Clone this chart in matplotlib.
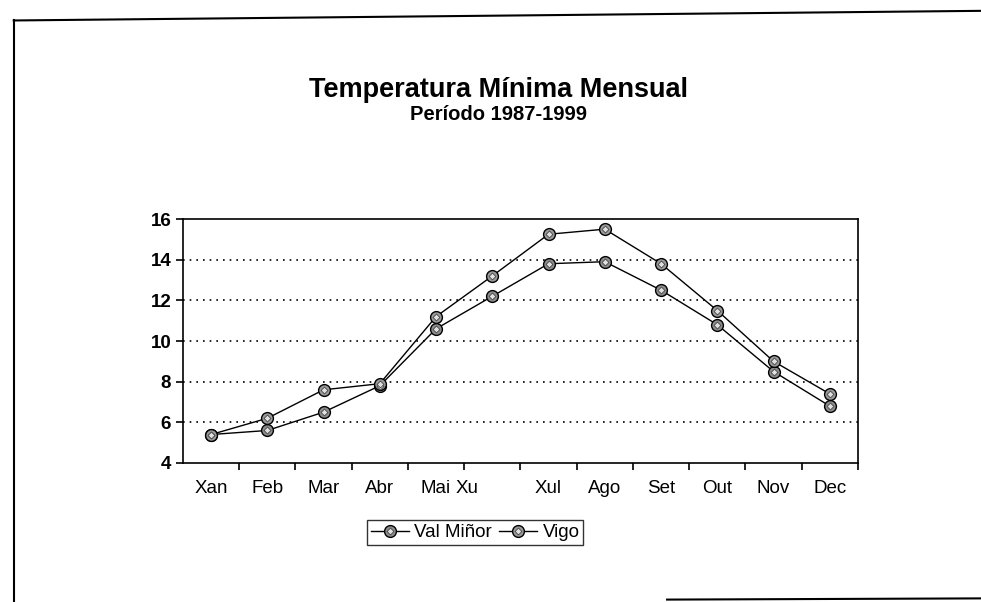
import matplotlib.pyplot as plt
from matplotlib.lines import Line2D
from matplotlib.legend_handler import HandlerTuple
from matplotlib.transforms import ScaledTranslation

plt.rcParams['font.family'] = ['Liberation Sans', 'DejaVu Sans']

# Data
months = ["Xan", "Feb", "Mar", "Abr", "Mai", "Xu", "Xul", "Ago", "Set", "Out", "Nov", "Dec"]
val_minor = [5.4, 5.6, 6.5, 7.8, 10.6, 12.2, 13.8, 13.9, 12.5, 10.8, 8.5, 6.8]
vigo = [5.4, 6.2, 7.6, 7.9, 11.2, 13.2, 15.25, 15.5, 13.8, 11.5, 9.0, 7.4]
y_ticks = [4, 6, 8, 10, 12, 14, 16]

fig = plt.figure(figsize=(9.81, 6.02), dpi=100)
ax = fig.add_axes([0.1865, 0.2309, 0.688, 0.4053])

x = list(range(len(months)))

handles = []
for vals, fill in [(val_minor, "#8c8c8c"), (vigo, "#9a9a9a")]:
    ln, = ax.plot(x, vals, color="black", lw=1.0, marker="o", ms=8.5,
                  mfc=fill, mec="black", mew=1.0, zorder=3)
    dm, = ax.plot(x, vals, ls="none", marker="D", ms=3.5,
                  mfc="#e0e0e0", mec="#444444", mew=0.6, zorder=4)
    handles.append((ln, dm))

# dotted gridlines, interior only
for yv in y_ticks[1:-1]:
    ax.axhline(yv, color="black", lw=1.2, ls=(0, (1, 3)), zorder=1)

ax.set_xlim(-0.5, len(months) - 0.5)
ax.set_ylim(4, 16)
ax.set_yticks(y_ticks)
ax.set_xticks(x)
ax.set_xticklabels(months)
ax.set_xticks([i + 0.5 for i in range(len(months))], minor=True)
ax.tick_params(axis="x", which="major", length=0, pad=12, labelsize=13.5)
ax.tick_params(axis="x", which="minor", length=5, width=1.2, direction="out")
ax.tick_params(axis="y", length=5, width=1.2, direction="out", labelsize=13.5)
for lab in ax.get_yticklabels():
    lab.set_fontweight("bold")
for sp in ax.spines.values():
    sp.set_linewidth(1.2)

# "Xu" label sits left of its category in the original
xu = ax.get_xticklabels()[5]
xu.set_transform(xu.get_transform() + ScaledTranslation(-0.25, 0, fig.dpi_scale_trans))

fig.text(0.508, 0.85, "Temperatura Mínima Mensual", ha="center", va="center",
         fontsize=19.5, fontweight="bold")
fig.text(0.508, 0.81, "Período 1987-1999", ha="center", va="center",
         fontsize=14.5, fontweight="bold")

leg = ax.legend(handles, ["Val Miñor", "Vigo"],
                handler_map={tuple: HandlerTuple(ndivide=1, pad=0)},
                loc="center", bbox_to_anchor=(0.4845, 0.115), bbox_transform=fig.transFigure,
                ncol=2, frameon=True, fancybox=False, edgecolor="black",
                fontsize=13.5, handlelength=2.0, handletextpad=0.3, columnspacing=0.4,
                borderpad=0.2, borderaxespad=0)
leg.get_frame().set_linewidth(1.0)

# scanned page border
fig.add_artist(Line2D([0.014, 0.014], [0.0, 0.966], color="black", lw=1.5))
fig.add_artist(Line2D([0.014, 1.0], [0.966, 0.982], color="black", lw=1.5))
fig.add_artist(Line2D([0.68, 1.0], [0.004, 0.006], color="black", lw=1.5))

fig.savefig("out.png", dpi=100)
